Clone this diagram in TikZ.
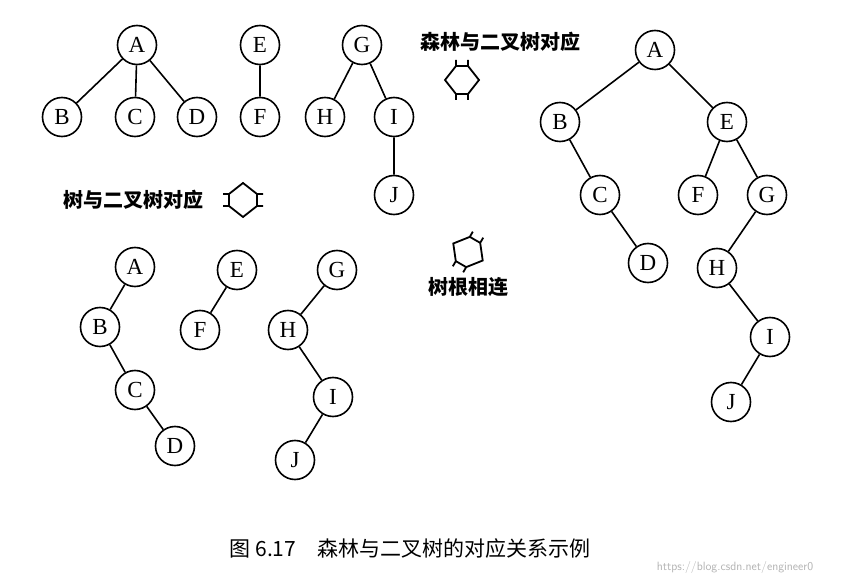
\documentclass[tikz,border=0pt]{standalone}
\usepackage{fontspec}
\setmainfont{Liberation Serif}
\newfontfamily\cjk{Noto Sans CJK SC}
\begin{document}
\begin{tikzpicture}[x=1pt,y=-1pt,
  nd/.style={circle,draw,line width=1.6pt,minimum size=39pt,inner sep=0pt,font=\fontsize{23}{23}\selectfont},
  ed/.style={line width=1.6pt},
  lbl/.style={font=\cjk\bfseries\fontsize{20}{20}\selectfont},
  hollow/.pic={\draw[line width=1.8pt] (-6,-20)--(-6,-14)--(-17,0)--(-6,14)--(-6,20) (6,-20)--(6,-14)--(17,0)--(6,14)--(6,20) (-6,-14)--(6,-14) (-6,14)--(6,14);}]
\useasboundingbox (0,0) rectangle (843,585);
% forest
\node[nd] (a1) at (137,45) {A};
\node[nd] (b1) at (62,117) {B};
\node[nd] (c1) at (135,117) {C};
\node[nd] (d1) at (197,117) {D};
\node[nd] (e1) at (260,45) {E};
\node[nd] (f1) at (260,117) {F};
\node[nd] (g1) at (362,45) {G};
\node[nd] (h1) at (325,117) {H};
\node[nd] (i1) at (394,117) {I};
\node[nd] (j1) at (394,195) {J};
\draw[ed] (a1)--(b1) (a1)--(c1) (a1)--(d1) (e1)--(f1) (g1)--(h1) (g1)--(i1) (i1)--(j1);
% binary tree
\node[nd] (a2) at (655,50) {A};
\node[nd] (b2) at (560,122) {B};
\node[nd] (e2) at (727,122) {E};
\node[nd] (c2) at (600,195) {C};
\node[nd] (f2) at (698,195) {F};
\node[nd] (g2) at (767,195) {G};
\node[nd] (d2) at (648,263) {D};
\node[nd] (h2) at (717,268) {H};
\node[nd] (i2) at (770,337) {I};
\node[nd] (j2) at (731,402) {J};
\draw[ed] (a2)--(b2) (a2)--(e2) (b2)--(c2) (c2)--(d2) (e2)--(f2) (e2)--(g2) (g2)--(h2) (h2)--(i2) (i2)--(j2);
% trees as binary
\node[nd] (a3) at (135,267) {A};
\node[nd] (b3) at (100,327) {B};
\node[nd] (c3) at (135,390) {C};
\node[nd] (d3) at (175,446) {D};
\node[nd] (e3) at (237,270) {E};
\node[nd] (f3) at (200,330) {F};
\node[nd] (g3) at (337,270) {G};
\node[nd] (h3) at (288,330) {H};
\node[nd] (i3) at (333,397) {I};
\node[nd] (j3) at (295,460) {J};
\draw[ed] (a3)--(b3) (b3)--(c3) (c3)--(d3) (e3)--(f3) (g3)--(h3) (h3)--(i3) (i3)--(j3);
% labels
\node[lbl] (t1) at (500,42) {森林与二叉树对应};
\pic at (462,80) {hollow};
\node[lbl] (t2) at (133,200) {树与二叉树对应};
\pic[rotate=90] at (243,200) {hollow};
\pic[rotate=-30] at (468,252) {hollow};
\node[lbl] (t3) at (468,287) {树根相连};
\node[font=\cjk\fontsize{21}{21}\selectfont] (cap) at (410,549) {图 6.17\quad 森林与二叉树的对应关系示例};
\node[font=\sffamily\fontsize{12}{12}\selectfont,text=gray!60] (wm) at (735,567) {https://blog.csdn.net/engineer0};
\end{tikzpicture}
\end{document}
